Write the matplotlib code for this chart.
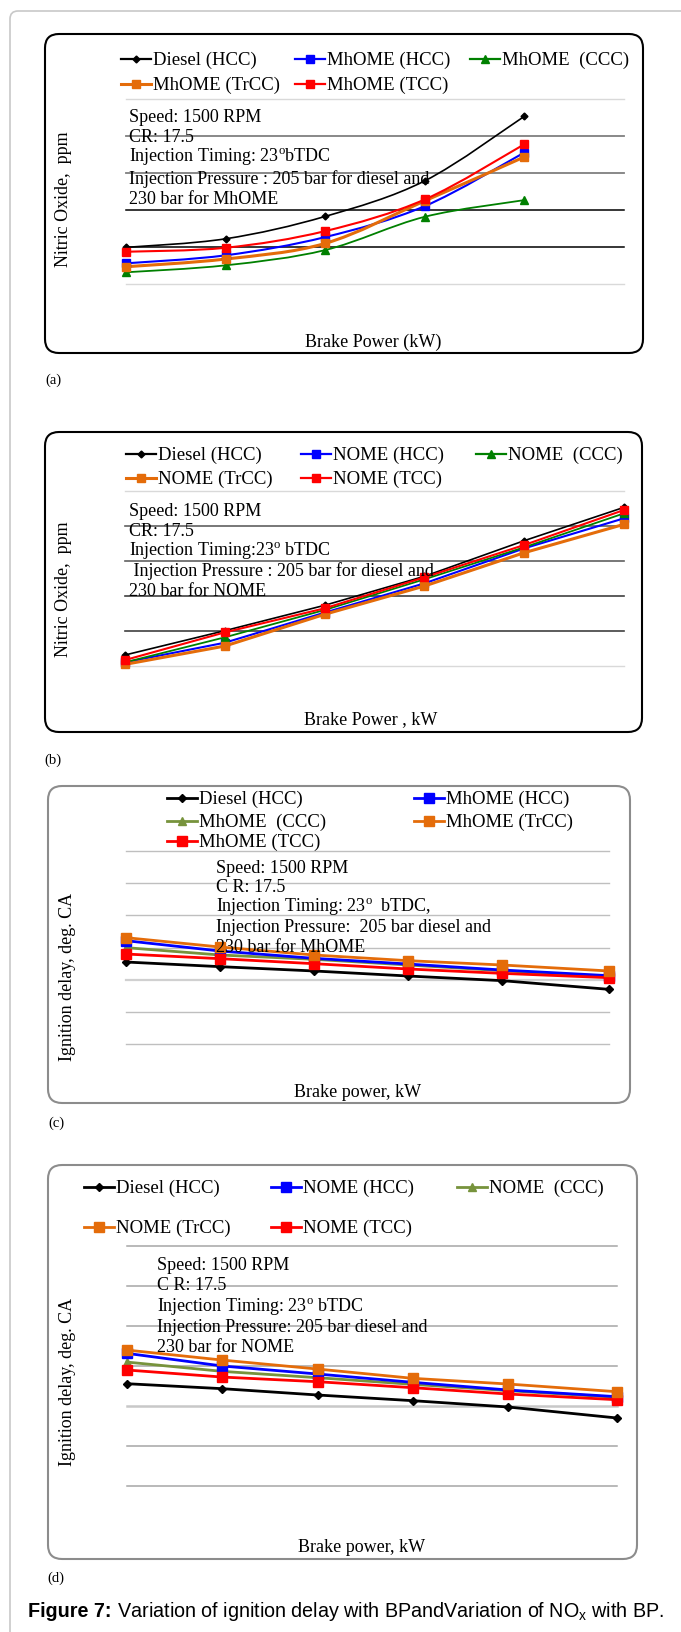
import matplotlib
matplotlib.use("Agg")
import matplotlib.pyplot as plt
from matplotlib.patches import FancyBboxPatch, PathPatch
from matplotlib.path import Path
from matplotlib.lines import Line2D
from matplotlib.transforms import IdentityTransform

# ---------------- data ----------------
# (a) NOx vs BP, MhOME
bp_a = [0, 1, 2, 3, 4]
nox_a_diesel = [498, 614, 916, 1396, 2267]
nox_a_hcc = [283, 391, 637, 1055, 1778]
nox_a_ccc = [162, 256, 462, 911, 1136]
nox_a_trcc = [237, 341, 552, 1126, 1719]
nox_a_tcc = [439, 493, 718, 1145, 1890]
labels_a = ["Diesel (HCC)", "MhOME (HCC)", "MhOME  (CCC)", "MhOME (TrCC)", "MhOME (TCC)"]

# (b) NOx vs BP, NOME
bp_b = [0, 1, 2, 3, 4, 5]
nox_b_diesel = [153, 501, 864, 1279, 1789, 2266]
nox_b_hcc = [48, 329, 759, 1178, 1679, 2109]
nox_b_ccc = [48, 406, 797, 1236, 1694, 2180]
nox_b_trcc = [19, 281, 735, 1140, 1617, 2023]
nox_b_tcc = [81, 477, 821, 1264, 1727, 2228]
labels_b = ["Diesel (HCC)", "NOME (HCC)", "NOME  (CCC)", "NOME (TrCC)", "NOME (TCC)"]

# (c) ignition delay vs BP, MhOME
bp_c = [0, 1, 2, 3, 4, 5.14]
id_c_diesel = [12.77, 12.05, 11.38, 10.60, 9.88, 8.53]
id_c_hcc = [16.08, 14.48, 13.34, 12.46, 11.53, 10.65]
id_c_ccc = [15.00, 13.86, 13.19, 12.31, 11.43, 10.44]
id_c_trcc = [16.55, 15.10, 13.86, 12.98, 12.31, 11.38]
id_c_tcc = [14.01, 13.29, 12.51, 11.69, 11.01, 10.34]
labels_c = ["Diesel (HCC)", "MhOME (HCC)", "MhOME  (CCC)", "MhOME (TrCC)", "MhOME (TCC)"]

# (d) ignition delay vs BP, NOME
bp_d = [0, 1, 2, 3, 4, 5.14]
id_d_diesel = [12.77, 12.15, 11.36, 10.65, 9.86, 8.49]
id_d_hcc = [16.56, 14.98, 13.98, 12.94, 11.98, 11.15]
id_d_ccc = [15.47, 14.31, 13.52, 12.69, 11.90, 11.07]
id_d_trcc = [16.97, 15.72, 14.60, 13.44, 12.73, 11.77]
id_d_tcc = [14.48, 13.60, 13.02, 12.27, 11.48, 10.77]
labels_d = ["Diesel (HCC)", "NOME (HCC)", "NOME  (CCC)", "NOME (TrCC)", "NOME (TCC)"]

nox_ticks = [0, 500, 1000, 1500, 2000, 2500]
id_ticks = [0, 5, 10, 15, 20, 25, 30]

notes_a = ["Speed: 1500 RPM", "CR: 17.5", r"Injection Timing: 23$^{\rm o}$bTDC",
           "Injection Pressure : 205 bar for diesel and", "230 bar for MhOME"]
notes_b = ["Speed: 1500 RPM", "CR: 17.5", r"Injection Timing:23$^{\rm o}$ bTDC",
           " Injection Pressure : 205 bar for diesel and", "230 bar for NOME"]
notes_c = ["Speed: 1500 RPM", "C R: 17.5", r"Injection Timing: 23$^{\rm o}$  bTDC,",
           "Injection Pressure:  205 bar diesel and", "230 bar for MhOME"]
notes_d = ["Speed: 1500 RPM", "C R: 17.5", r"Injection Timing: 23$^{\rm o}$ bTDC",
           "Injection Pressure: 205 bar diesel and", "230 bar for NOME"]

# ---------------- style ----------------
plt.rcParams['font.family'] = ['Liberation Serif', 'DejaVu Serif']
plt.rcParams['mathtext.fontset'] = 'custom'
plt.rcParams['mathtext.rm'] = 'Liberation Serif'
plt.rcParams['mathtext.sf'] = 'Liberation Sans'
plt.rcParams['mathtext.bf'] = 'Liberation Sans:bold'

W, H = 681, 1632
fig = plt.figure(figsize=(W / 100, H / 100), dpi=100)
fig.patch.set_facecolor('white')
ID = IdentityTransform()
FS = 13
LFS = 13.5

BLUE = '#0000FF'
RED = '#FF0000'
ORANGE = '#E46C0A'
GREEN1 = '#008000'
GREEN2 = '#77933C'


def ax_at(left, right, top, bottom):
    return fig.add_axes([left / W, 1 - bottom / H, (right - left) / W, (bottom - top) / H])


def box(x0, y0, x1, y1, color, lw, r):
    p = FancyBboxPatch((x0, H - y1), x1 - x0, y1 - y0,
                       boxstyle=f"round,pad=0,rounding_size={r}",
                       transform=ID, fill=False, edgecolor=color, linewidth=lw)
    fig.add_artist(p)


def smooth_path(xs, ys):
    verts = [(xs[0], ys[0])]
    codes = [Path.MOVETO]
    n = len(xs)
    for i in range(n - 1):
        p0 = i - 1 if i > 0 else i
        p3 = i + 2 if i + 2 < n else i + 1
        c1 = (xs[i] + (xs[i + 1] - xs[p0]) / 6, ys[i] + (ys[i + 1] - ys[p0]) / 6)
        c2 = (xs[i + 1] - (xs[p3] - xs[i]) / 6, ys[i + 1] - (ys[p3] - ys[i]) / 6)
        verts += [c1, c2, (xs[i + 1], ys[i + 1])]
        codes += [Path.CURVE4] * 3
    return Path(verts, codes)


def setup(ax, xmax, ticks, gridcolors, gridlw):
    ax.set_xlim(0, xmax)
    ax.set_ylim(ticks[0], ticks[-1])
    ax.set_yticks(ticks)
    ax.set_xticks([])
    ax.tick_params(left=False, bottom=False, labelleft=False, labelbottom=False)
    for s in ax.spines.values():
        s.set_visible(False)
    ax.set_facecolor('none')
    ax.grid(True, axis='y')
    for gl, c, lw in zip(ax.get_ygridlines(), gridcolors, gridlw):
        gl.set_color(c)
        gl.set_linewidth(lw)
        gl.set_clip_on(False)
    ax.set_axisbelow(True)


def series(ax, xs, ys, style, smooth=False):
    color, marker, ms, lw = style
    if smooth:
        ax.add_patch(PathPatch(smooth_path(xs, ys), fill=False, edgecolor=color,
                               linewidth=lw, clip_on=False, zorder=3))
        ax.plot(xs, ys, linestyle='none', marker=marker, markersize=ms, color=color,
                clip_on=False, zorder=4)
    else:
        ax.plot(xs, ys, linestyle='-', linewidth=lw, marker=marker, markersize=ms,
                color=color, clip_on=False, zorder=3)


def legend(entries, styles, positions):
    for lab, st, (x, y) in zip(entries, styles, positions):
        color, marker, ms, lw = st
        fig.add_artist(Line2D([x, x + 30], [H - y, H - y], transform=ID, color=color,
                              linewidth=max(lw, 1.6)))
        fig.add_artist(Line2D([x + 15], [H - y], transform=ID, color=color, marker=marker,
                              markersize=ms, linestyle='none'))
        fig.text((x + 32) / W, 1 - (y + 5.5) / H, lab, fontsize=LFS, va='baseline', ha='left')


def notes(lines, x, ys):
    for t, y in zip(lines, ys):
        fig.text(x / W, 1 - (y + 5.5) / H, t, fontsize=FS, va='baseline', ha='left', zorder=5)


def labels(ax, xl, yl, xpos, ypos):
    ax.set_xlabel(xl, fontsize=FS, va='center', ha='center')
    ax.xaxis.set_label_coords(*xpos)
    ax.set_ylabel(yl, fontsize=FS, va='center', ha='center')
    ax.yaxis.set_label_coords(*ypos)


# outer page border
box(10, 11, 720, 1700, '#c8c8c8', 1.2, 8)

# ---------------- panel (a) ----------------
box(45, 34, 643, 353, 'black', 1.5, 14)
styles_ab = [('black', 'D', 3.5, 1.2), (BLUE, 's', 5.5, 1.5), (GREEN1, '^', 5.5, 1.3),
             (ORANGE, 's', 5.5, 2.2), (RED, 's', 5.5, 1.5)]
ax = ax_at(126, 624, 99, 284.3)
setup(ax, 5, nox_ticks, ['#d9d9d9', 'black', 'black', '#7f7f7f', '#7f7f7f', '#d9d9d9'],
      [1, 1.1, 1.1, 1.3, 1.3, 1])
for ys, st in zip([nox_a_diesel, nox_a_ccc, nox_a_hcc, nox_a_trcc, nox_a_tcc],
                  [styles_ab[0], styles_ab[2], styles_ab[1], styles_ab[3], styles_ab[4]]):
    series(ax, bp_a, ys, st, smooth=True)
labels(ax, "Brake Power (kW)", "Nitric Oxide,  ppm", (0.496, -0.311), (-0.1265, 0.46))
legend(labels_a, styles_ab, [(121, 59), (295, 59), (470, 59), (121, 84), (295, 84)])
notes(notes_a, 129, [117, 137, 157, 178, 198])
fig.text(53 / W, 1 - 380 / H, "(a)", fontsize=10.5, ha='center', va='center')

# ---------------- panel (b) ----------------
box(45, 432, 642, 732, 'black', 1.5, 14)
ax = ax_at(125, 624, 491, 665.7)
setup(ax, 5, nox_ticks, ['#d9d9d9', '#404040', '#404040', '#606060', '#606060', '#d9d9d9'],
      [1, 1.2, 1.2, 1.2, 1.2, 1])
for ys, st in zip([nox_b_diesel, nox_b_hcc, nox_b_ccc, nox_b_trcc, nox_b_tcc], styles_ab):
    series(ax, bp_b, ys, st)
labels(ax, "Brake Power , kW", "Nitric Oxide,  ppm", (0.493, -0.311), (-0.124, 0.439))
legend(labels_b, styles_ab, [(126, 454), (301, 454), (476, 454), (126, 478), (301, 478)])
notes(notes_b, 129, [510, 530, 550, 570, 590])
fig.text(53 / W, 1 - 760 / H, "(b)", fontsize=10.5, ha='center', va='center')

# ---------------- panel (c) ----------------
styles_cd = [('black', 'D', 4.5, 2.0), (BLUE, 's', 6.5, 2.0), (GREEN2, '^', 6, 2.0),
             (ORANGE, 's', 7, 2.0), (RED, 's', 7, 2.0)]
box(48, 786, 630, 1103, '#8c8c8c', 1.5, 14)
ax = ax_at(126, 609, 851, 1044.3)
setup(ax, 5.14, id_ticks, ['#bfbfbf'] * 2 + ['#d0d0d0'] + ['#bfbfbf'] * 4,
      [1, 1, 1.6, 1, 1, 1, 1])
for ys, st in zip([id_c_diesel, id_c_ccc, id_c_hcc, id_c_tcc, id_c_trcc],
                  [styles_cd[0], styles_cd[2], styles_cd[1], styles_cd[4], styles_cd[3]]):
    series(ax, bp_c, ys, st)
labels(ax, "Brake power, kW", "Ignition delay, deg. CA", (0.48, -0.247), (-0.122, 0.348))
legend(labels_c, styles_cd, [(167, 798), (414, 798), (167, 821), (414, 821), (167, 841)])
notes(notes_c, 216, [867, 887, 907, 927, 947])
fig.text(56 / W, 1 - 1123 / H, "(c)", fontsize=10.5, ha='center', va='center')

# ---------------- panel (d) ----------------
box(48, 1165, 637, 1559, '#8c8c8c', 1.5, 14)
ax = ax_at(127, 617, 1245.7, 1486)
setup(ax, 5.14, id_ticks, ['#a6a6a6'] * 2 + ['#c8c8c8'] + ['#a6a6a6'] * 4,
      [1.1, 1.1, 1.8, 1.1, 1.1, 1.1, 1.1])
for ys, st in zip([id_d_diesel, id_d_ccc, id_d_hcc, id_d_tcc, id_d_trcc],
                  [styles_cd[0], styles_cd[2], styles_cd[1], styles_cd[4], styles_cd[3]]):
    series(ax, bp_d, ys, st)
labels(ax, "Brake power, kW", "Ignition delay, deg. CA", (0.478, -0.254), (-0.122, 0.433))
legend(labels_d, styles_cd, [(84, 1187), (271, 1187), (457, 1187), (84, 1227), (271, 1227)])
notes(notes_d, 157, [1264, 1285, 1306, 1326, 1346])
fig.text(56 / W, 1 - 1578 / H, "(d)", fontsize=10.5, ha='center', va='center')

# ---------------- caption ----------------
cap_fs = 14.2
t1 = fig.text(28 / W, 1 - 1617 / H, "Figure 7:", fontsize=cap_fs, fontweight='bold',
              family=['Liberation Sans', 'DejaVu Sans'], va='baseline', ha='left')
r = fig.canvas.get_renderer()
bb = t1.get_window_extent(renderer=r)
fig.text(bb.x1 / W, 1 - 1617 / H,
         r" Variation of ignition delay with BPandVariation of NO$_{\mathsf{x}}$ with BP.",
         fontsize=cap_fs, family=['Liberation Sans', 'DejaVu Sans'], va='baseline', ha='left')

fig.savefig("out.png", dpi=100, facecolor='white')
